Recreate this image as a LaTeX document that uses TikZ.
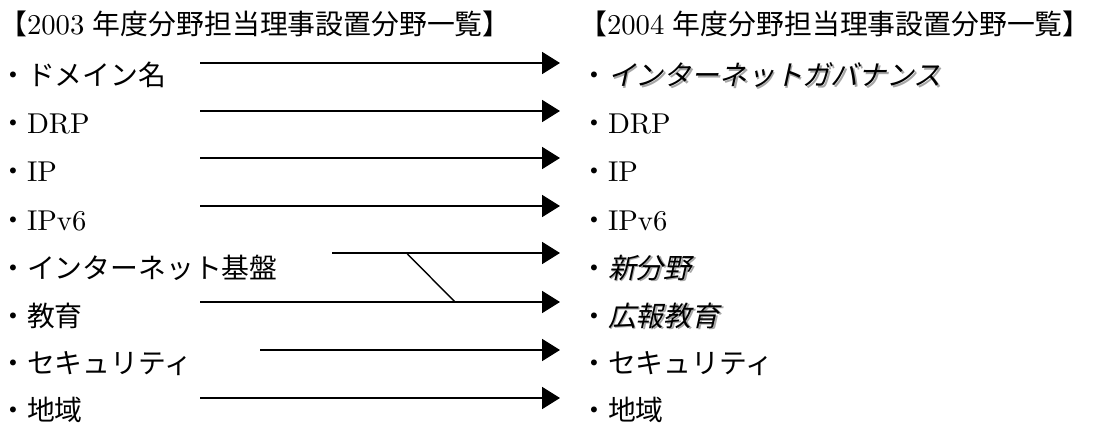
\documentclass[tikz,border=0pt]{standalone}
\usepackage{fontspec}
\setmainfont{lmroman10-regular.otf}[Scale=1.05]
\newfontfamily\jp{Noto Sans CJK JP}[Scale=1.02]
\newfontfamily\jpit{Noto Sans CJK JP}[Scale=1.02,FakeSlant=0.22]
\usetikzlibrary{arrows.meta}
\newcommand{\shadowed}[1]{\makebox[0pt][l]{\hspace{1.6pt}\raisebox{-1.6pt}{\color{black!35}#1}}#1}
\tikzset{
  lbl/.style={anchor=base west, inner sep=0pt, font=\fontsize{27.3}{30}\selectfont},
  arr/.style={line width=1.8pt, -{Triangle[length=18pt,width=22pt]}},
  tie/.style={line width=1.4pt},
}
\begin{document}
\begin{tikzpicture}[x=1pt,y=-1pt]
\useasboundingbox (0,0) rectangle (1093,425);
% left column
\node[lbl] (l0) at (-1,35) {{\jp 【}2003\hspace{0.3em}{\jp 年度分野担当理事設置分野一覧】}};
\node[lbl] (l1) at (-1,86) {\jp ・ドメイン名};
\node[lbl] (l2) at (-1,134) {{\jp ・}DRP};
\node[lbl] (l3) at (-1,182) {{\jp ・}IP};
\node[lbl] (l4) at (-1,230) {{\jp ・}IPv6};
\node[lbl] (l5) at (-1,278) {\jp ・インターネット基盤};
\node[lbl] (l6) at (-1,326) {\jp ・教育};
\node[lbl] (l7) at (-1,373) {\jp ・セキュリティ};
\node[lbl] (l8) at (-1,420) {\jp ・地域};
% right column
\node[lbl] (r0) at (579,35) {{\jp 【}2004\hspace{0.3em}{\jp 年度分野担当理事設置分野一覧】}};
\node[lbl] (r1) at (580,86) {{\jp ・}{\jpit\shadowed{インターネットガバナンス}}};
\node[lbl] (r2) at (580,134) {{\jp ・}DRP};
\node[lbl] (r3) at (580,182) {{\jp ・}IP};
\node[lbl] (r4) at (580,230) {{\jp ・}IPv6};
\node[lbl] (r5) at (580,278) {{\jp ・}{\jpit\shadowed{新分野}}};
\node[lbl] (r6) at (580,326) {{\jp ・}{\jpit\shadowed{広報教育}}};
\node[lbl] (r7) at (580,373) {\jp ・セキュリティ};
\node[lbl] (r8) at (580,420) {\jp ・地域};
% connector end points
\coordinate (s1) at (200,63);  \coordinate (e1) at (560,63);
\coordinate (s2) at (200,111); \coordinate (e2) at (560,111);
\coordinate (s3) at (200,158); \coordinate (e3) at (560,158);
\coordinate (s4) at (200,206); \coordinate (e4) at (560,206);
\coordinate (s5) at (332,253); \coordinate (e5) at (560,253);
\coordinate (s6) at (200,302); \coordinate (e6) at (560,302);
\coordinate (s7) at (260,350); \coordinate (e7) at (560,350);
\coordinate (s8) at (200,398); \coordinate (e8) at (560,398);
\coordinate (k5) at (406.5,253);
\coordinate (k6) at (455,302);
\foreach \i in {1,...,8} {\draw[arr] (s\i) -- (e\i);}
\draw[tie] (k5) -- (k6);
\end{tikzpicture}
\end{document}
